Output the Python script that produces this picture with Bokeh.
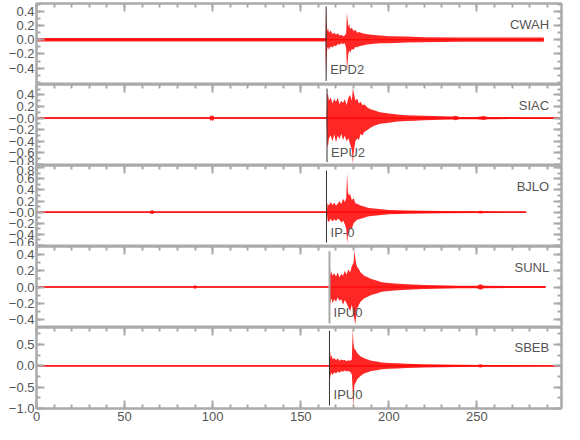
from bokeh.plotting import figure
from bokeh.layouts import column
from bokeh.models import Range1d, FixedTicker, LinearAxis, Label, CustomJSTickFormatter
from bokeh.embed import file_html
from bokeh.resources import INLINE

# ---------------- data ----------------
stations = ["CWAH", "SIAC", "BJLO", "SUNL", "SBEB"]
pick_names = ["EPD2", "EPU2", "IP-0", "IPU0", "IPU0"]
pick_times = [164.4, 164.9, 164.6, 166.3, 166.3]
pick_top = [0.47, 0.51, 0.75, 0.44, 0.82]
pick_bot = [-0.58, -0.76, -0.55, -0.45, -0.93]

t_cwah = [0, 164.0, 164.4, 164.6, 165, 165.5, 166, 167, 168, 169, 170, 171, 172, 173, 174, 175,
          175.8, 176.2, 176.5, 177, 177.5, 178, 179, 180, 181, 182, 183, 185, 187, 190, 195, 200,
          210, 220, 240, 288]
up_cwah = [.025, .025, .45, .30, .12, .16, .10, .13, .08, .10, .07, .09, .06, .07, .05, .06,
           .10, .39, .30, .18, .22, .15, .17, .12, .14, .10, .11, .09, .08, .07, .06, .05,
           .045, .035, .03, .03]
lo_cwah = [-.025, -.025, -.55, -.35, -.13, -.10, -.14, -.09, -.11, -.08, -.09, -.06, -.07, -.05, -.06, -.05,
           -.12, -.45, -.35, -.20, -.15, -.18, -.13, -.14, -.10, -.11, -.09, -.08, -.07, -.06, -.05, -.05,
           -.04, -.035, -.03, -.03]

t_siac = [0, 98, 99, 99.5, 100, 101, 164.6, 165.0, 165.4, 166, 167, 168, 169, 170, 171, 172, 173,
          174, 175, 176, 177, 178, 179, 179.6, 180, 180.5, 181, 182, 183, 184, 185, 186, 188, 190,
          192, 195, 200, 205, 210, 215, 220, 230, 236, 238, 240, 250, 254, 256, 260, 280, 298]
up_siac = [.012, .012, .05, .03, .05, .012, .012, .40, .43, .30, .36, .25, .33, .28, .35, .24, .30,
           .26, .33, .22, .35, .40, .30, .52, .45, .38, .30, .34, .25, .28, .22, .24, .18, .15,
           .13, .10, .08, .06, .05, .045, .04, .03, .025, .04, .02, .02, .035, .02, .02, .015, .015]
lo_siac = [-.012, -.012, -.05, -.03, -.05, -.012, -.012, -.45, -.50, -.35, -.30, -.40, -.28, -.42, -.30, -.36, -.27,
           -.38, -.30, -.40, -.35, -.45, -.55, -.79, -.60, -.50, -.40, -.35, -.38, -.27, -.30, -.24, -.20, -.16,
           -.13, -.10, -.08, -.06, -.05, -.045, -.04, -.03, -.025, -.04, -.02, -.02, -.035, -.02, -.02, -.015, -.015]

t_bjlo = [0, 64, 65, 66, 67, 164.8, 165.2, 166, 167, 168, 169, 170, 171, 172, 173, 174, 175, 175.8,
          176.3, 176.8, 177.5, 178, 179, 180, 181, 182, 184, 186, 188, 190, 193, 196, 200, 205, 210,
          220, 230, 250, 252, 254, 278]
up_bjlo = [.01, .01, .03, .035, .01, .01, .16, .12, .18, .13, .17, .12, .15, .20, .14, .24, .18, .25,
           .70, .35, .30, .33, .22, .25, .16, .15, .12, .10, .08, .07, .06, .05, .04, .035, .03,
           .025, .02, .015, .025, .015, .01]
lo_bjlo = [-.01, -.01, -.03, -.035, -.01, -.01, -.15, -.18, -.12, -.17, -.13, -.16, -.12, -.14, -.19, -.15, -.22, -.30,
           -.56, -.40, -.37, -.28, -.30, -.20, -.17, -.14, -.12, -.10, -.08, -.07, -.06, -.05, -.04, -.035, -.03,
           -.025, -.02, -.015, -.025, -.015, -.01]

t_sunl = [0, 89, 90, 91, 166.2, 166.6, 167, 167.5, 168, 169, 170, 171, 172, 173, 174, 175, 176, 177,
          178, 179, 180, 180.5, 181, 181.5, 182, 183, 184, 185, 186, 188, 190, 193, 196, 200, 205, 210,
          220, 240, 250, 252, 254, 289]
up_sunl = [.008, .008, .025, .008, .008, .23, .15, .19, .14, .17, .13, .18, .12, .16, .14, .20, .15, .22,
           .18, .26, .30, .46, .35, .28, .25, .22, .18, .16, .14, .12, .10, .08, .06, .05, .04, .035,
           .025, .015, .015, .035, .015, .012]
lo_sunl = [-.008, -.008, -.025, -.008, -.008, -.23, -.17, -.14, -.20, -.15, -.18, -.13, -.17, -.15, -.22, -.16, -.20, -.25,
           -.30, -.22, -.35, -.40, -.47, -.32, -.27, -.22, -.18, -.16, -.14, -.12, -.10, -.08, -.06, -.05, -.04, -.035,
           -.025, -.015, -.015, -.035, -.015, -.012]

t_sbeb = [0, 166.2, 166.5, 167, 167.5, 168, 169, 170, 171, 172, 173, 174, 175, 176, 177, 178, 179,
          179.5, 179.9, 180.4, 181, 182, 183, 184, 185, 186, 188, 190, 193, 196, 200, 205, 210, 220,
          230, 250, 252, 254, 298]
up_sbeb = [.012, .012, .41, .20, .25, .16, .18, .14, .17, .12, .15, .13, .14, .11, .13, .12, .15,
           .86, .55, .40, .38, .30, .26, .22, .20, .18, .15, .12, .10, .08, .07, .06, .05, .04,
           .03, .02, .04, .02, .015]
lo_sbeb = [-.012, -.012, -.33, -.20, -.16, -.22, -.15, -.18, -.13, -.16, -.12, -.14, -.11, -.13, -.12, -.14, -.20,
           -.60, -.98, -.45, -.41, -.32, -.27, -.24, -.20, -.18, -.15, -.12, -.10, -.08, -.07, -.06, -.05, -.04,
           -.03, -.02, -.04, -.02, -.015]

traces = [(t_cwah, up_cwah, lo_cwah), (t_siac, up_siac, lo_siac), (t_bjlo, up_bjlo, lo_bjlo),
          (t_sunl, up_sunl, lo_sunl), (t_sbeb, up_sbeb, lo_sbeb)]

x_major = [0, 50, 100, 150, 200, 250]
x_minor = list(range(0, 300, 10))

y_ranges = [(-0.63, 0.51), (-0.82, 0.58), (-0.62, 0.84), (-0.5, 0.5), (-1.0, 0.9)]
y_major = [[-0.4, -0.2, 0.0, 0.2, 0.4],
           [-0.8, -0.6, -0.4, -0.2, 0.0, 0.2, 0.4],
           [-0.6, -0.4, -0.2, 0.0, 0.2, 0.4, 0.6, 0.8],
           [-0.4, -0.2, 0.0, 0.2, 0.4],
           [-1.0, -0.5, 0.0, 0.5]]
y_minor = [[-0.6, -0.5, -0.4, -0.3, -0.2, -0.1, 0.0, 0.1, 0.2, 0.3, 0.4, 0.5],
           [-0.8, -0.7, -0.6, -0.5, -0.4, -0.3, -0.2, -0.1, 0.0, 0.1, 0.2, 0.3, 0.4, 0.5],
           [-0.6, -0.5, -0.4, -0.3, -0.2, -0.1, 0.0, 0.1, 0.2, 0.3, 0.4, 0.5, 0.6, 0.7, 0.8],
           [-0.5, -0.4, -0.3, -0.2, -0.1, 0.0, 0.1, 0.2, 0.3, 0.4, 0.5],
           [-1.0, -0.75, -0.5, -0.25, 0.0, 0.25, 0.5, 0.75]]
zero_labels = ["0.0", "\u22120.0", "\u22120.0", "0.0", "0.0"]

station_label_y = [0.22, 0.22, 0.47, 0.24, 0.43]
pick_label_y = [-0.42, -0.59, -0.36, -0.32, -0.67]
pick_colors = ["#333333", "#333333", "#333333", "#aaaaaa", "#333333"]
pick_widths = [1, 1, 1, 2, 1]

# ---------------- styling ----------------
FONT = "Liberation Sans"
AX = "#aaaaaa"
TXT = "#555555"
X_MAX = 298
BLANK = CustomJSTickFormatter(code="return ''")


def fmt(v):
    s = "%.1f" % abs(v)
    return ("\u2212" + s) if v < 0 else s


def style_axis(ax, labels=True):
    ax.axis_line_color = AX
    ax.axis_line_width = 2
    ax.major_tick_line_color = AX
    ax.minor_tick_line_color = AX
    ax.major_tick_line_width = 2
    ax.minor_tick_line_width = 2
    ax.major_tick_in = 8
    ax.major_tick_out = 0
    ax.minor_tick_in = 4
    ax.minor_tick_out = 0
    ax.major_label_text_font = FONT
    ax.major_label_text_color = TXT
    if labels:
        ax.major_label_text_font_size = "13px"
        ax.major_label_standoff = 2
    else:
        ax.formatter = BLANK
        ax.major_label_text_font_size = "1px"
        ax.major_label_standoff = 0


figs = []
n = len(stations)
for i in range(n):
    last = (i == n - 1)
    p = figure(frame_width=525, frame_height=81, output_backend="svg", toolbar_location=None,
               x_range=Range1d(0, X_MAX), y_range=Range1d(*y_ranges[i]),
               x_axis_location=None, y_axis_location=None,
               min_border_left=36, min_border_right=8,
               min_border_top=3 if i == 0 else 0, min_border_bottom=22 if last else 0)
    p.xgrid.visible = False
    p.ygrid.visible = False
    p.outline_line_color = AX
    p.outline_line_width = 2
    p.background_fill_color = "white"
    p.border_fill_color = "white"

    left = LinearAxis(ticker=FixedTicker(ticks=y_major[i], minor_ticks=y_minor[i]))
    style_axis(left, True)
    ov = {v: fmt(v) for v in y_major[i] if v != 0}
    ov[0.0] = zero_labels[i]
    left.major_label_overrides = ov
    p.add_layout(left, "left")

    right = LinearAxis(ticker=FixedTicker(ticks=y_major[i], minor_ticks=y_minor[i]))
    style_axis(right, False)
    p.add_layout(right, "right")

    top = LinearAxis(ticker=FixedTicker(ticks=x_major, minor_ticks=x_minor))
    style_axis(top, False)
    p.add_layout(top, "above")

    if last:
        bot = LinearAxis(ticker=FixedTicker(ticks=x_major, minor_ticks=x_minor))
        style_axis(bot, True)
        bot.major_label_standoff = 3
        p.add_layout(bot, "below")

    t, up, lo = traces[i]
    # baseline of the trace over its recorded span
    p.line(x=[t[0], t[-1]], y=[0, 0], line_color="#ff0000", line_width=1.2)
    # envelope of the oscillating trace
    p.varea(x=t, y1=lo, y2=up, fill_color="#ff0000", fill_alpha=0.85)

    p.segment(x0=[pick_times[i]], y0=[pick_bot[i]], x1=[pick_times[i]], y1=[pick_top[i]],
              line_color=pick_colors[i], line_width=pick_widths[i])

    p.add_layout(Label(x=291, y=station_label_y[i], text=stations[i], text_align="right",
                       text_baseline="middle", text_font=FONT, text_font_size="13px",
                       text_color=TXT))
    p.add_layout(Label(x=pick_times[i] + 2.3, y=pick_label_y[i], text=pick_names[i],
                       text_align="left", text_baseline="middle", text_font=FONT,
                       text_font_size="13px", text_color=TXT))
    figs.append(p)

layout = column(*figs, spacing=0)
open("out.html", "w").write(file_html(layout, INLINE))
